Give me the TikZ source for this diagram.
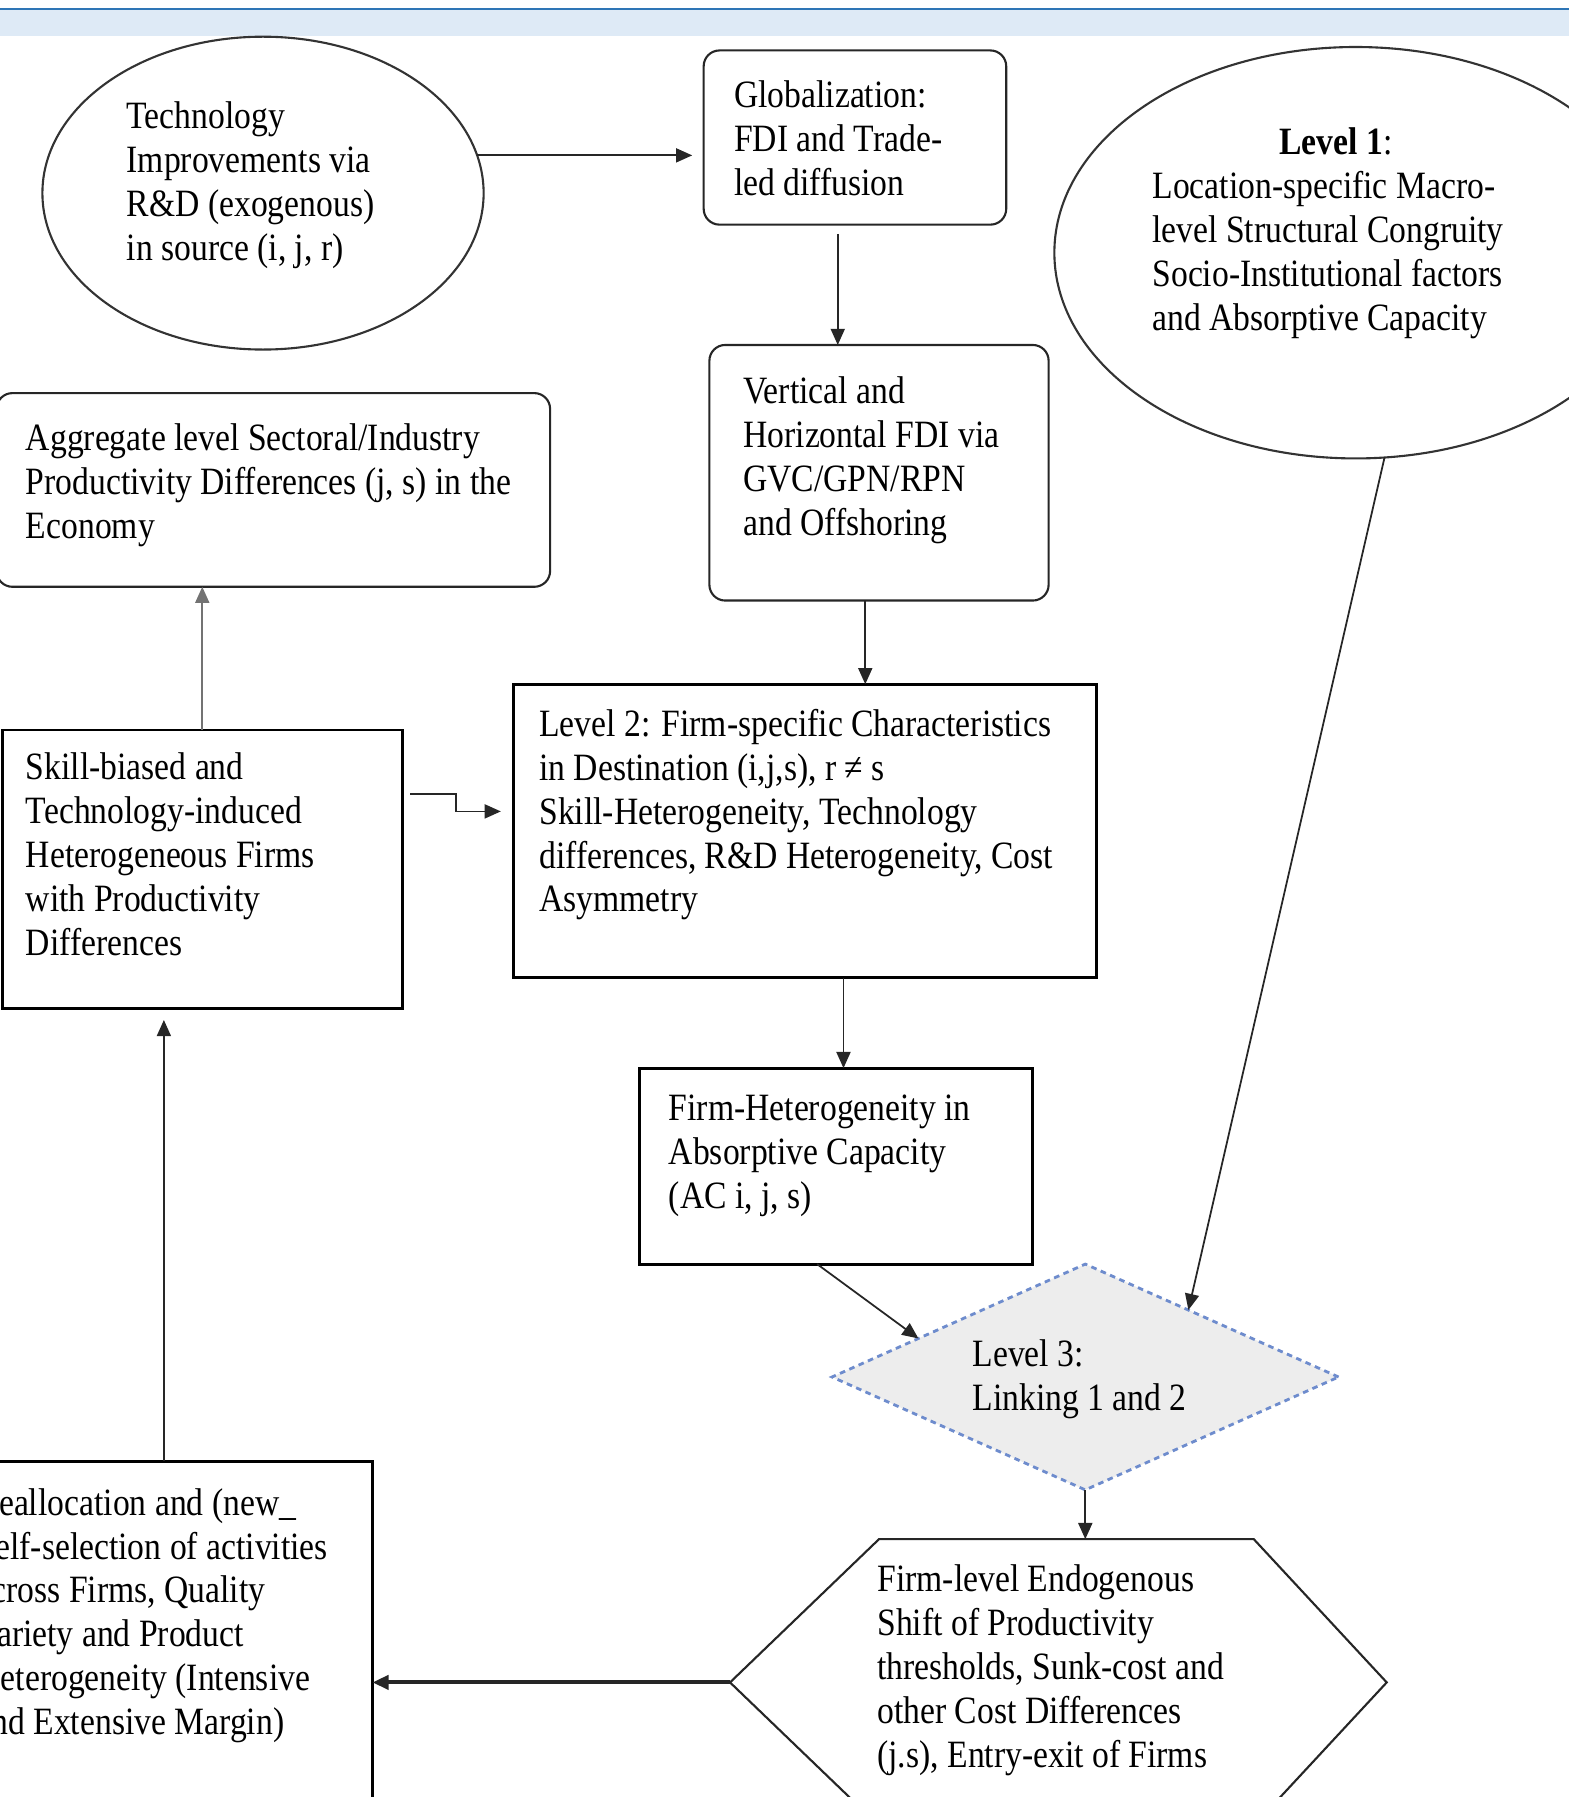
\documentclass[tikz,border=0pt]{standalone}
\usepackage{fontspec}
\setmainfont[FakeStretch=0.87]{Liberation Serif}
\usetikzlibrary{shapes.geometric,arrows.meta}
\definecolor{bannerline}{RGB}{46,117,182}
\definecolor{bannerfill}{RGB}{222,234,246}
\definecolor{dashblue}{RGB}{110,140,205}
\definecolor{diamondfill}{RGB}{237,237,237}
\newcommand{\pxu}{0.01146cm}
\begin{document}
\begin{tikzpicture}[x=\pxu,y=-\pxu,>={Triangle[length=4.6pt,width=4pt]},
    txt/.style={anchor=north west, inner sep=0pt, align=left, font=\fontsize{11}{12.5}\selectfont},
    oval/.style={draw=black!80, line width=0.6pt, ellipse, inner sep=0pt, outer sep=0pt},
    roundbox/.style={draw=black!85, line width=0.6pt, rectangle, rounded corners=4.5pt, inner sep=0pt, outer sep=0pt},
    sqbox/.style={draw, line width=0.8pt, rectangle, inner sep=0pt, outer sep=0pt},
    link/.style={->, line width=0.5pt, black!85}]
        \clip (0,0) rectangle (1369,1568);
        \fill[bannerfill] (0,8) rectangle (1369,31);
        \draw[bannerline, line width=0.6pt] (0,8) -- (1369,8);

        \node (tech) [oval, minimum width=385*\pxu, minimum height=273*\pxu] at (229.5,168.5) {};
        \node (techtxt) [txt] at (110,88) {Technology\\Improvements via\\R\&D (exogenous)\\in source (i, j, r)};

        \node (glob) [roundbox, minimum width=264*\pxu, minimum height=152*\pxu] at (746,120) {};
        \node (globtxt) [txt] at (640,70) {Globalization:\\FDI and Trade-\\led diffusion};

        \node (lvone) [oval, minimum width=526*\pxu, minimum height=359*\pxu] at (1183,220.5) {};
        \node (lvonetxt) [txt] at (1005,111) {\makebox[3.667cm]{\textbf{Level 1}:}\\Location-specific Macro-\\level Structural Congruity\\Socio-Institutional factors\\and Absorptive Capacity};

        \node (aggr) [roundbox, minimum width=483*\pxu, minimum height=169*\pxu] at (238.5,427.5) {};
        \node (aggrtxt) [txt] at (22,369) {Aggregate level Sectoral/Industry\\Productivity Differences (j, s) in the\\Economy};

        \node (vert) [roundbox, minimum width=296*\pxu, minimum height=223*\pxu] at (767,412.5) {};
        \node (verttxt) [txt] at (648,328) {Vertical and\\Horizontal FDI via\\GVC/GPN/RPN\\and Offshoring};

        \node (lvtwo) [sqbox, minimum width=509*\pxu, minimum height=256*\pxu] at (702.5,725) {};
        \node (lvtwotxt) [txt] at (470,618) {Level 2: Firm-specific Characteristics\\in Destination (i,j,s), r ≠ s\\Skill-Heterogeneity, Technology\\differences, R\&D Heterogeneity, Cost\\Asymmetry};

        \node (skill) [sqbox, minimum width=349*\pxu, minimum height=243*\pxu] at (176.5,758.5) {};
        \node (skilltxt) [txt] at (22,656) {Skill-biased and\\Technology-induced\\Heterogeneous Firms\\with Productivity\\Differences};

        \node (firmhet) [sqbox, minimum width=343*\pxu, minimum height=171*\pxu] at (729.5,1017.5) {};
        \node (firmhettxt) [txt] at (583,955) {Firm-Heterogeneity in\\Absorptive Capacity\\(AC i, j, s)};

        \node (lvthree) [diamond, draw=dashblue, fill=diamondfill, dash pattern=on 1.6pt off 1.3pt, line width=0.8pt, minimum width=442*\pxu, minimum height=197*\pxu, inner sep=0pt, outer sep=0pt] at (947,1201.5) {};
        \node (lvthreetxt) [txt] at (848,1168) {Level 3:\\Linking 1 and 2};

        \draw[black!85, line width=0.6pt] (767,1343) -- (1094,1343) -- (1210,1468) -- (1094,1593) -- (767,1593) -- (637,1468) -- cycle;
        \coordinate (hextop) at (944,1343);
        \coordinate (hexwest) at (637,1468);
        \node (hextxt) [txt] at (765,1365) {Firm-level Endogenous\\Shift of Productivity\\thresholds, Sunk-cost and\\other Cost Differences\\(j.s), Entry-exit of Firms};

        \node (realloc) [sqbox, minimum width=355*\pxu, minimum height=345*\pxu] at (147.5,1447.5) {};
        \node (realloctxt) [txt] at (-21,1298) {Reallocation and (new\_\\Self-selection of activities\\across Firms, Quality\\Variety and Product\\Heterogeneity (Intensive\\and Extensive Margin)};

        \draw[link, shorten >=10*\pxu] (tech.10) -- (tech.10 -| glob.west);
        \draw[link, shorten <=8*\pxu] ([xshift=-15*\pxu]glob.south) -- ([xshift=-15*\pxu]glob.south |- vert.north);
        \draw[link] ([xshift=-12*\pxu]vert.south) -- ([xshift=-12*\pxu]vert.south |- lvtwo.north);
        \draw[link, black!55] (skill.north) -- (skill.north |- aggr.south);
        \draw[link] ([xshift=7*\pxu,yshift=-56*\pxu]skill.north east) -- ++(40,0) |- ([xshift=-11*\pxu,yshift=-111*\pxu]lvtwo.north west);
        \draw[link] ([xshift=6.5*\pxu]firmhet.north |- lvtwo.south) -- ([xshift=6.5*\pxu]firmhet.north);
        \draw[link] ([xshift=-16.5*\pxu]firmhet.south) -- (lvthree.167);
        \draw[link] (lvone.-82) -- (lvthree.33);
        \draw[link] (lvthree.south) -- (lvthree.south |- hextop);
        \draw[link, line width=1.1pt] (hexwest) -- (hexwest -| realloc.east);
        \draw[link, shorten >=10*\pxu] ([xshift=-4.5*\pxu]realloc.north) -- ([xshift=-4.5*\pxu]realloc.north |- skill.south);
    \end{tikzpicture}
\end{document}
